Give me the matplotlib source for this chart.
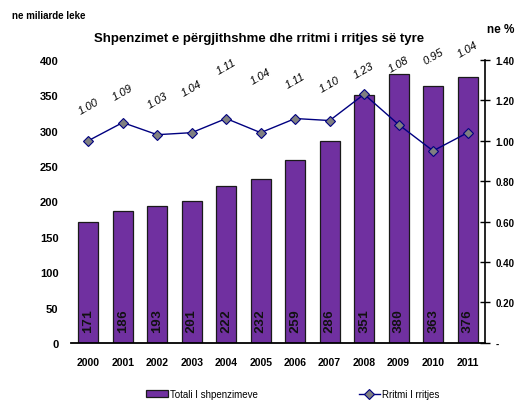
import numpy as np
import matplotlib
matplotlib.use("Agg")
import matplotlib.pyplot as plt
from matplotlib.ticker import FuncFormatter

# data
years = ['2000', '2001', '2002', '2003', '2004', '2005',
         '2006', '2007', '2008', '2009', '2010', '2011']
totals = [171, 186, 193, 201, 222, 232, 259, 286, 351, 380, 363, 376]
growth = [1.00, 1.09, 1.03, 1.04, 1.11, 1.04, 1.11, 1.10, 1.23, 1.08, 0.95, 1.04]

# label heights for the growth labels (right-axis units), as placed in the original
label_y = [1.17, 1.24, 1.20, 1.26, 1.37, 1.32, 1.30, 1.28, 1.35, 1.38, 1.42, 1.455]

plt.rcParams['font.family'] = ['Liberation Sans', 'DejaVu Sans']

bar_color = '#7030A0'
line_color = '#000080'

fig = plt.figure(figsize=(5.18, 4.06), dpi=100)
ax = fig.add_axes([0.137, 0.153, 0.799, 0.697])
ax2 = ax.twinx()

x = np.arange(len(years))
bars = ax.bar(x, totals, width=0.58, color=bar_color, edgecolor='#1a1a1a',
              linewidth=0.9, zorder=2)
for xi, v in zip(x, totals):
    ax.text(xi, 16, str(v), rotation=90, ha='center', va='bottom',
            fontsize=9.5, fontweight='bold', family=['Liberation Mono', 'DejaVu Sans Mono'],
            color='#111111', zorder=3)

ax.set_xlim(-0.5, len(years) - 0.5)
ax.set_ylim(0, 400)
ax.set_yticks(range(0, 401, 50))
ax.set_xticks(x)
ax.set_xticklabels(years, fontweight='bold', fontsize=7.5)
ax.tick_params(axis='x', length=0, pad=10)
ax.tick_params(axis='y', length=0, pad=9, labelsize=8)
for lab in ax.get_yticklabels():
    lab.set_fontweight('bold')
for s in ['top', 'right', 'left']:
    ax.spines[s].set_visible(False)
ax.spines['bottom'].set_linewidth(1.3)

ln, = ax2.plot(x, growth, color=line_color, lw=1.0, marker='D', markersize=5.5,
               markerfacecolor='#808080', markeredgecolor=line_color,
               markeredgewidth=0.8, zorder=4)
for xi, v, ly in zip(x, growth, label_y):
    ax2.text(xi, ly, f'{v:.2f}', rotation=30, ha='center', va='center',
             fontsize=8, fontstyle='italic')

ax2.set_ylim(0, 1.40)
ax2.set_yticks(np.arange(0, 1.41, 0.2))
ax2.yaxis.set_major_formatter(FuncFormatter(lambda v, p: '-' if abs(v) < 1e-9 else f'{v:.2f}'))
ax2.tick_params(axis='y', direction='inout', length=7, width=1, pad=4, labelsize=7)
for lab in ax2.get_yticklabels():
    lab.set_fontweight('bold')
for s in ['top', 'left', 'bottom']:
    ax2.spines[s].set_visible(False)
ax2.spines['right'].set_linewidth(1.2)

fig.text(0.5, 0.905, 'Shpenzimet e përgjithshme dhe rritmi i rritjes së tyre',
         ha='center', va='center', fontsize=9.5, fontweight='bold')
fig.text(0.023, 0.96, 'ne miliarde leke', ha='left', va='center',
         fontsize=7, fontweight='bold')
fig.text(0.94, 0.926, 'ne %', ha='left', va='center', fontsize=8.5, fontweight='bold')

fig.legend([bars], ['Totali I shpenzimeve'], loc='center',
           bbox_to_anchor=(0.39, 0.027), frameon=False, fontsize=7,
           handlelength=2.2, handletextpad=0.2)
fig.legend([ln], ['Rritmi I rritjes'], loc='center',
           bbox_to_anchor=(0.77, 0.027), frameon=False, fontsize=7,
           handlelength=2.2, handletextpad=0.2)

fig.savefig('out.png', dpi=100)
